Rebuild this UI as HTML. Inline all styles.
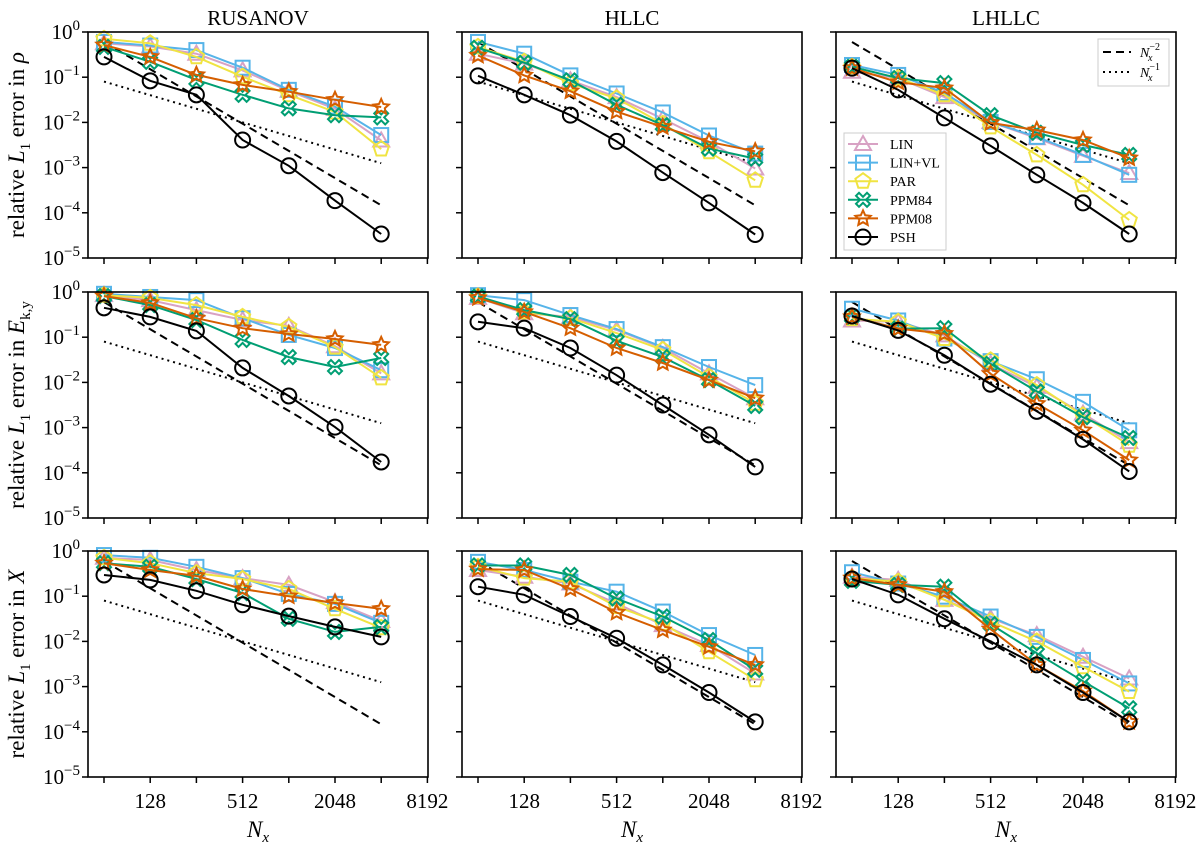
<!DOCTYPE html>
<html><head><meta charset="utf-8"><style>
html,body{margin:0;padding:0;background:#fff;}
svg{display:block;font-family:"Liberation Serif",serif;}
</style></head><body>
<svg id="fig" width="1200" height="844" viewBox="0 0 1200 844" xmlns="http://www.w3.org/2000/svg"></svg>
<script>
const nx = [64,128,256,512,1024,2048,4096];
const seriesNames = ["LIN","LIN+VL","PAR","PPM84","PPM08","PSH"];
const seriesColors = ["#d8a2c4","#56b4e9","#f0e442","#009e73","#d55e00","#000000"];
const colTitles = ["RUSANOV","HLLC","LHLLC"];
const yTickExps = [0,-1,-2,-3,-4,-5];
const xTickVals = [64,128,256,512,1024,2048,4096,8192];
const xTickLabels = ["","128","","512","","2048","","8192"];
const refN2 = [0.6,0.6/4096];
const refN1 = [0.08,0.08/64];
// log10 values per panel [row][col], series order LIN, LIN+VL, PAR, PPM84, PPM08, PSH
const rhoRus = [[-0.25,-0.32,-0.48,-0.85,-1.3,-1.7,-2.4],[-0.22,-0.3,-0.4,-0.79,-1.28,-1.65,-2.28],[-0.15,-0.25,-0.55,-0.99,-1.39,-1.77,-2.59],[-0.33,-0.66,-1.06,-1.39,-1.69,-1.84,-1.89],[-0.29,-0.55,-0.95,-1.17,-1.32,-1.5,-1.66],[-0.55,-1.08,-1.39,-2.39,-2.96,-3.73,-4.47]];
const rhoHllc = [[-0.48,-0.7,-1.07,-1.44,-1.92,-2.43,-3.02],[-0.22,-0.48,-0.96,-1.36,-1.78,-2.29,-2.69],[-0.33,-0.66,-1.14,-1.47,-2.03,-2.65,-3.28],[-0.35,-0.68,-1.07,-1.61,-2.06,-2.58,-2.8],[-0.52,-0.96,-1.31,-1.76,-2.1,-2.43,-2.64],[-0.97,-1.39,-1.84,-2.42,-3.11,-3.78,-4.48]];
const rhoLh = [[-0.88,-1.02,-1.44,-1.99,-2.35,-2.74,-3.12],[-0.73,-0.95,-1.35,-1.99,-2.32,-2.72,-3.16],[-0.77,-1.02,-1.39,-2.1,-2.72,-3.38,-4.16],[-0.77,-1.02,-1.13,-1.84,-2.23,-2.5,-2.72],[-0.8,-1.11,-1.24,-2.01,-2.17,-2.39,-2.79],[-0.8,-1.28,-1.9,-2.52,-3.16,-3.78,-4.47]];
const ekRus = [[-0.07,-0.18,-0.4,-0.62,-0.75,-1.2,-1.8],[-0.04,-0.11,-0.18,-0.58,-0.95,-1.24,-1.73],[-0.07,-0.13,-0.29,-0.55,-0.77,-1.22,-1.9],[-0.09,-0.29,-0.62,-1.06,-1.44,-1.66,-1.46],[-0.09,-0.24,-0.58,-0.8,-0.93,-1.04,-1.17],[-0.35,-0.55,-0.86,-1.68,-2.3,-2.99,-3.76]];
const ekHllc = [[-0.13,-0.47,-0.55,-0.84,-1.24,-1.8,-2.35],[-0.07,-0.18,-0.51,-0.82,-1.22,-1.66,-2.06],[-0.1,-0.44,-0.58,-0.91,-1.28,-1.88,-2.46],[-0.1,-0.4,-0.6,-1.08,-1.44,-1.95,-2.52],[-0.13,-0.44,-0.8,-1.24,-1.57,-1.95,-2.35],[-0.66,-0.8,-1.24,-1.84,-2.5,-3.16,-3.87]];
const ekLh = [[-0.63,-0.66,-0.96,-1.59,-2.1,-2.69,-3.32],[-0.37,-0.63,-1.03,-1.53,-1.93,-2.43,-3.06],[-0.59,-0.66,-1.03,-1.51,-2.06,-2.73,-3.39],[-0.55,-0.81,-0.8,-1.59,-2.2,-2.77,-3.23],[-0.55,-0.81,-0.92,-1.81,-2.47,-3.06,-3.72],[-0.53,-0.85,-1.4,-2.04,-2.64,-3.26,-3.97]];
const xRus = [[-0.15,-0.2,-0.42,-0.6,-0.75,-1.13,-1.55],[-0.09,-0.15,-0.35,-0.6,-0.95,-1.17,-1.59],[-0.15,-0.27,-0.49,-0.62,-0.84,-1.28,-1.7],[-0.27,-0.35,-0.62,-0.93,-1.5,-1.79,-1.68],[-0.27,-0.42,-0.55,-0.84,-1.0,-1.15,-1.28],[-0.53,-0.64,-0.88,-1.19,-1.44,-1.68,-1.9]];
const xHllc = [[-0.42,-0.57,-0.72,-1.16,-1.64,-2.08,-2.71],[-0.24,-0.42,-0.68,-0.9,-1.34,-1.86,-2.3],[-0.35,-0.6,-0.68,-1.23,-1.6,-2.23,-2.85],[-0.32,-0.32,-0.53,-1.05,-1.45,-1.97,-2.63],[-0.4,-0.42,-0.84,-1.36,-1.75,-2.12,-2.52],[-0.79,-0.97,-1.45,-1.93,-2.52,-3.13,-3.78]];
const xLh = [[-0.57,-0.64,-1.08,-1.49,-1.86,-2.34,-2.82],[-0.47,-0.72,-1.01,-1.45,-1.9,-2.41,-2.93],[-0.6,-0.68,-1.08,-1.56,-2.0,-2.56,-3.11],[-0.66,-0.75,-0.79,-1.62,-2.26,-2.88,-3.48],[-0.6,-0.75,-0.9,-1.73,-2.52,-3.1,-3.78],[-0.62,-0.97,-1.5,-2.0,-2.52,-3.13,-3.78]];
const panelData = [[rhoRus,rhoHllc,rhoLh],[ekRus,ekHllc,ekLh],[xRus,xHllc,xLh]];

const NS="http://www.w3.org/2000/svg";
const svg=document.getElementById('fig');
function mk(tag,attrs,parent){const e=document.createElementNS(NS,tag);for(const k in attrs)e.setAttribute(k,attrs[k]);(parent||svg).appendChild(e);return e;}
const colLeft=[88,462,836], rowTop=[32,292,551], PW=340, PH=226;
const octPx=46.2;
function xs(c,n){return colLeft[c]+16+(Math.log2(n)-6)*octPx;}
function ys(r,lv){return rowTop[r]-lv*PH/5;}

function marker(g,type,x,y,color){
  const a={fill:"none",stroke:color,"stroke-width":2};
  let el;
  if(type===5){el=mk('circle',Object.assign({cx:x,cy:y,r:7.5},a),g);}
  else if(type===1){el=mk('rect',Object.assign({x:x-7,y:y-7,width:14,height:14},a),g);}
  else if(type===0){el=mk('polygon',Object.assign({points:`${x},${y-8} ${x+8},${y+6} ${x-8},${y+6}`},a),g);}
  else if(type===2){let p=[];for(let i=0;i<5;i++){const t=-Math.PI/2+i*2*Math.PI/5;p.push((x+8*Math.cos(t)).toFixed(1)+","+(y+8*Math.sin(t)).toFixed(1));}el=mk('polygon',Object.assign({points:p.join(' ')},a),g);}
  else if(type===4){let p=[];for(let i=0;i<10;i++){const t=-Math.PI/2+i*Math.PI/5;const rr=i%2?3.8:8;p.push((x+rr*Math.cos(t)).toFixed(1)+","+(y+rr*Math.sin(t)).toFixed(1));}el=mk('polygon',Object.assign({points:p.join(' ')},a),g);}
  else {const s=3,o=7;el=mk('polygon',Object.assign({points:`${x-o},${y-o+s} ${x-o+s},${y-o} ${x},${y-s} ${x+o-s},${y-o} ${x+o},${y-o+s} ${x+s},${y} ${x+o},${y+o-s} ${x+o-s},${y+o} ${x},${y+s} ${x-o+s},${y+o} ${x-o},${y+o-s} ${x-s},${y}`},a),g);}
  return el;
}

const ylabels=['relative <tspan font-style="italic">L</tspan><tspan font-size="15" dy="6">1</tspan><tspan dy="-6"> error in </tspan><tspan font-style="italic">ρ</tspan>',
'relative <tspan font-style="italic">L</tspan><tspan font-size="15" dy="6">1</tspan><tspan dy="-6"> error in </tspan><tspan font-style="italic">E</tspan><tspan font-size="15" dy="6">k,y</tspan>',
'relative <tspan font-style="italic">L</tspan><tspan font-size="15" dy="6">1</tspan><tspan dy="-6"> error in </tspan><tspan font-style="italic">X</tspan>'];

for(let c=0;c<3;c++){
  const t=mk('text',{x:colLeft[c]+PW/2,y:25,"text-anchor":"middle","font-size":21},svg);
  
  
  t.textContent=colTitles[c];
}
for(let r=0;r<3;r++){
  const yl=mk('text',{transform:`translate(24,${rowTop[r]+PH/2}) rotate(-90)`,"text-anchor":"middle","font-size":23},svg);
  
  
  yl.innerHTML=ylabels[r];
  for(let c=0;c<3;c++){
    const g=mk('g',{},svg);
    
    
    const L=colLeft[c],T=rowTop[r];
    mk('rect',{x:L,y:T,width:PW,height:PH,fill:"#fff",stroke:"none"},g);
    yTickExps.forEach(e=>{
      const y=ys(r,e);
      mk('line',{x1:L-6,x2:L,y1:y,y2:y,stroke:"#000","stroke-width":1.5},g);
      if(c===0){
        const tt=mk('text',{x:L-8,y:y+7,"text-anchor":"end","font-size":21},g);
        
        
        tt.innerHTML='10<tspan font-size="15" dy="-9">'+(e===0?'0':'−'+(-e))+'</tspan>';
      }
    });
    xTickVals.forEach((n,i)=>{
      const x=xs(c,n);
      mk('line',{x1:x,x2:x,y1:T+PH,y2:T+PH+6,stroke:"#000","stroke-width":1.5},g);
      if(r===2 && xTickLabels[i]){
        const tt=mk('text',{x:x,y:T+PH+31,"text-anchor":"middle","font-size":21},g);
        
        
        tt.textContent=xTickLabels[i];
      }
    });
    if(r===2){
      const xl=mk('text',{x:L+PW/2,y:T+PH+60,"text-anchor":"middle","font-size":23},g);
      
      
      xl.innerHTML='<tspan font-style="italic">N</tspan><tspan font-style="italic" font-size="15" dy="5">x</tspan>';
    }
    const d1=mk('line',{x1:xs(c,nx[0]),y1:ys(r,Math.log10(refN2[0])),x2:xs(c,nx[6]),y2:ys(r,Math.log10(refN2[1])),stroke:"#000","stroke-width":2,"stroke-dasharray":"8,5"},g);
    
    
    const d2=mk('line',{x1:xs(c,nx[0]),y1:ys(r,Math.log10(refN1[0])),x2:xs(c,nx[6]),y2:ys(r,Math.log10(refN1[1])),stroke:"#000","stroke-width":2,"stroke-dasharray":"2,4"},g);
    
    
    const data=panelData[r][c];
    data.forEach((vals,s)=>{
      const sg=mk('g',{},g);
      
      
      const pts=vals.map((v,i)=>xs(c,nx[i]).toFixed(1)+","+ys(r,v).toFixed(1)).join(' ');
      mk('polyline',{points:pts,fill:"none",stroke:seriesColors[s],"stroke-width":2},sg);
      vals.forEach((v,i)=>{
        const m=marker(sg,s,xs(c,nx[i]),ys(r,v),seriesColors[s]);
        
        
      });
    });
    mk('rect',{x:L,y:T,width:PW,height:PH,fill:"none",stroke:"#000","stroke-width":1.6},g);
  }
}
const lg=mk('g',{},svg);


mk('rect',{x:844,y:133,width:102,height:117,fill:"#fff",stroke:"#ccc","stroke-width":1},lg);
seriesNames.forEach((nm,s)=>{
  const y=144+s*18.6;
  const e=mk('g',{},lg);
  
  
  mk('line',{x1:848,x2:878,y1:y,y2:y,stroke:seriesColors[s],"stroke-width":2},e);
  marker(e,s,863,y,seriesColors[s]);
  const t=mk('text',{x:890,y:y+5,"font-size":14},e);
  t.textContent=nm;
});
const rg=mk('g',{},svg);


mk('rect',{x:1098,y:39,width:71,height:47,fill:"#fff",stroke:"#ccc","stroke-width":1},rg);
mk('line',{x1:1103,x2:1131,y1:52,y2:52,stroke:"#000","stroke-width":2,"stroke-dasharray":"8,5"},rg);
mk('line',{x1:1103,x2:1131,y1:72,y2:72,stroke:"#000","stroke-width":2,"stroke-dasharray":"2,4"},rg);
const r1=mk('text',{x:1140,y:57,"font-size":14},rg);
r1.innerHTML='<tspan font-style="italic">N</tspan><tspan font-size="10" dy="-7">−2</tspan><tspan font-style="italic" font-size="10" dx="-12" dy="11">x</tspan>';
const r2=mk('text',{x:1140,y:77,"font-size":14},rg);
r2.innerHTML='<tspan font-style="italic">N</tspan><tspan font-size="10" dy="-7">−1</tspan><tspan font-style="italic" font-size="10" dx="-12" dy="11">x</tspan>';
</script>
</body></html>
